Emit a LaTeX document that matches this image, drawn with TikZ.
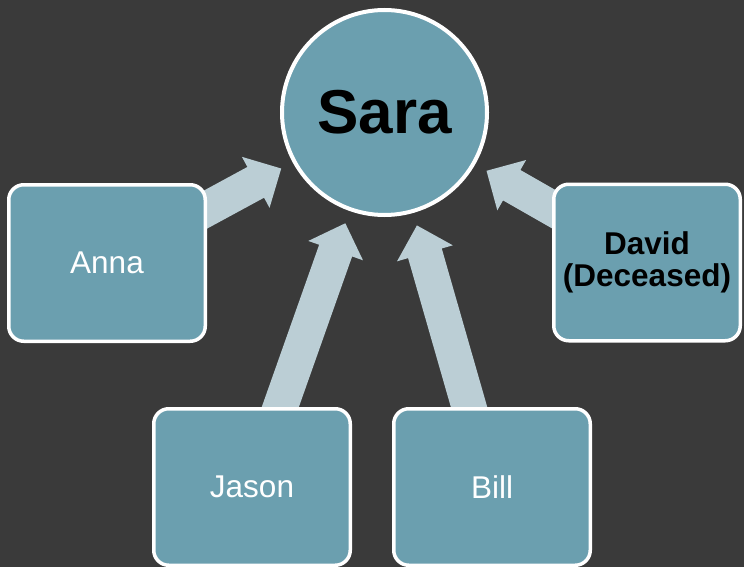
\documentclass[tikz,border=0pt]{standalone}
\usepackage{fontspec}
\setmainfont{Liberation Sans}
\usetikzlibrary{calc}
\definecolor{bgc}{HTML}{3A3A3A}
\definecolor{boxc}{HTML}{6B9FAF}
\definecolor{arrc}{HTML}{BBCED5}
\pgfdeclarelayer{bg}
\pgfdeclarelayer{arr}
\pgfsetlayers{bg,arr,main}
\tikzset{
  person/.style={draw=white, line width=3.5pt, fill=boxc, rounded corners=15pt,
    minimum height=156.5pt, inner sep=0pt, align=center,
    font=\fontsize{31.5}{31.6}\selectfont},
  center/.style={circle, draw=white, line width=4pt, fill=boxc, minimum size=205pt,
    inner sep=0pt, font=\fontsize{62}{62}\selectfont\bfseries},
  blockarrow/.style={fill=arrc}
}
% block arrow from the centre of node #1 towards node #2 (circle of outer radius 104.5pt)
\newcommand\blockarrowto[2]{%
  \coordinate (t-#1) at ($(#2.center)!117.5pt!(#1.center)$);
  \coordinate (b-#1) at ($(t-#1)!29pt!(#1.center)$);
  \fill[blockarrow] (t-#1)
    -- ($(b-#1)!29pt!90:(t-#1)$)
    -- ($(b-#1)!17.5pt!90:(t-#1)$)
    -- ($(#1.center)!17.5pt!90:(t-#1)$)
    -- ($(#1.center)!17.5pt!-90:(t-#1)$)
    -- ($(b-#1)!17.5pt!-90:(t-#1)$)
    -- ($(b-#1)!29pt!-90:(t-#1)$)
    -- cycle;}
\begin{document}
\begin{tikzpicture}[x=1pt,y=-1pt]
\begin{pgfonlayer}{bg}
\fill[bgc] (0,0) rectangle (744,567);
\end{pgfonlayer}
\useasboundingbox (0,0) rectangle (744,567);
\node[center] (sara) at (384.5,112.5) {Sara};
\node[person, minimum width=196.5pt, text=white] (anna) at (107,263) {Anna};
\node[person, minimum width=186.5pt, font=\fontsize{31.5}{31.6}\selectfont\bfseries] (david) at (647,262.5) {David\\(Deceased)};
\node[person, minimum width=196.5pt, text=white] (jason) at (252,487) {Jason};
\node[person, minimum width=196.5pt, text=white] (bill) at (492,487) {Bill};
\begin{pgfonlayer}{arr}
\blockarrowto{anna}{sara}
\blockarrowto{david}{sara}
\blockarrowto{jason}{sara}
\blockarrowto{bill}{sara}
\end{pgfonlayer}
\end{tikzpicture}
\end{document}
